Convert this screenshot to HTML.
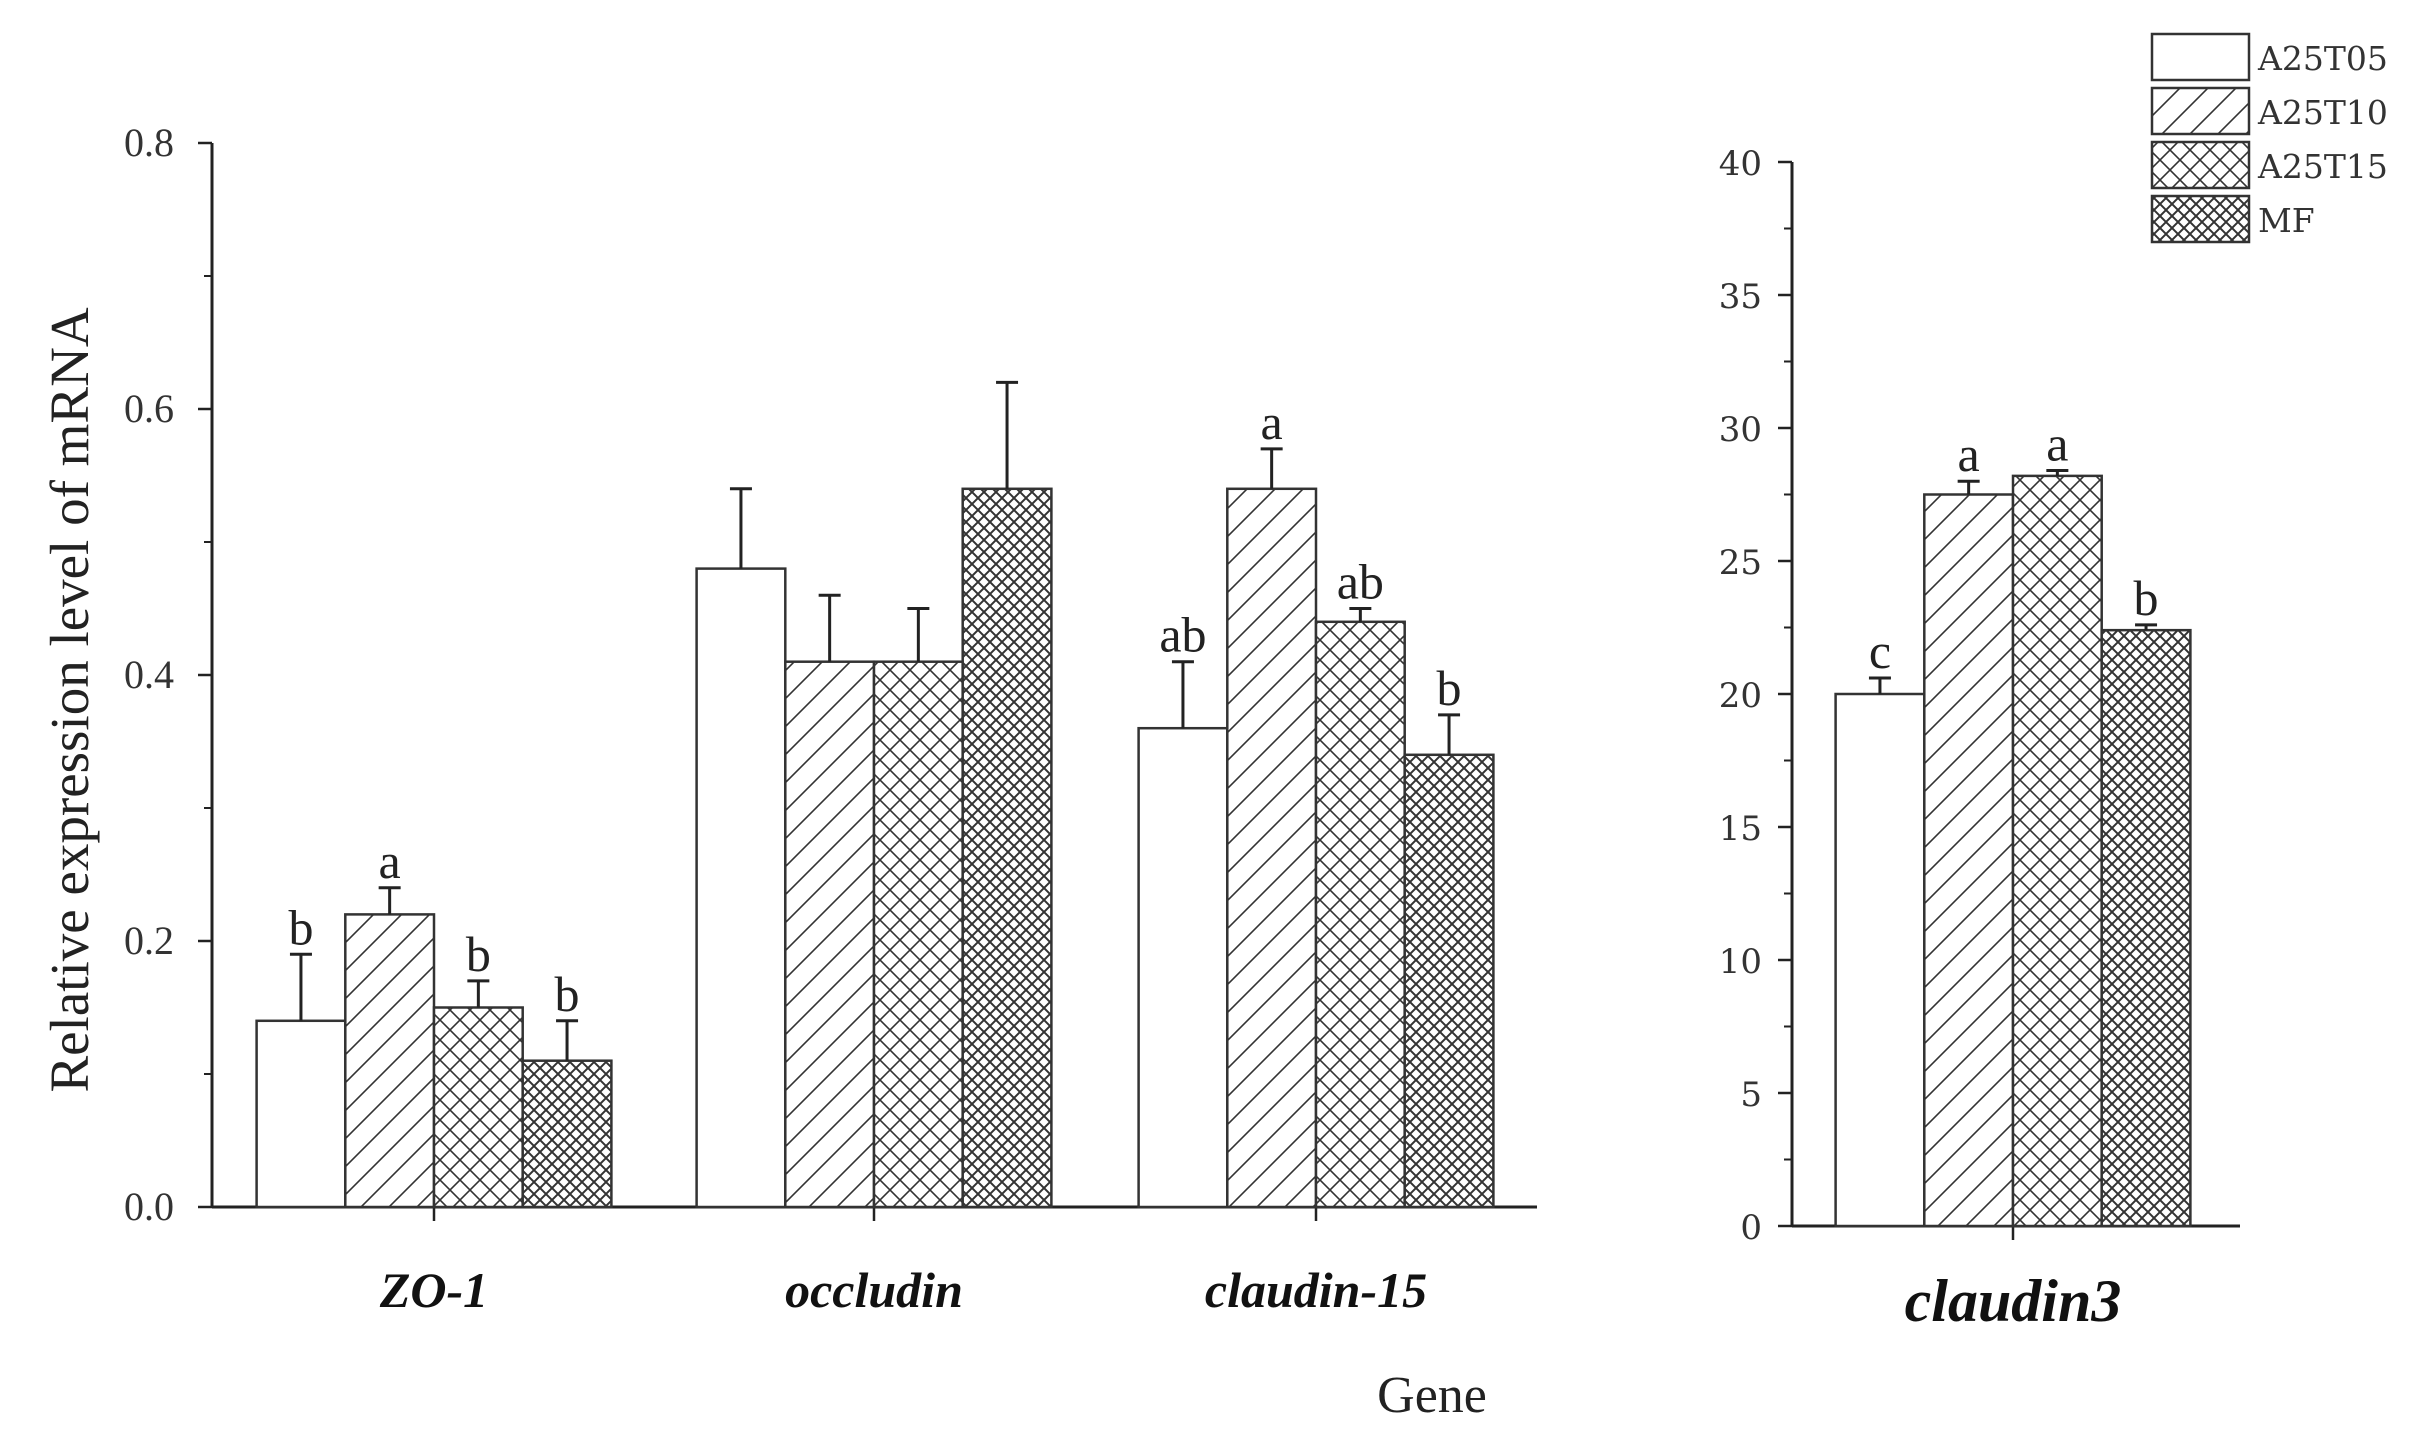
<!DOCTYPE html>
<html><head><meta charset="utf-8"><style>
html,body{margin:0;padding:0;background:#fff;}
svg{display:block;font-family:"Liberation Serif","DejaVu Serif",serif;}
</style></head><body>
<svg id="chart" width="2427" height="1436" viewBox="0 0 2427 1436" xmlns="http://www.w3.org/2000/svg">
<defs>
<pattern id="pHatch" patternUnits="userSpaceOnUse" width="28" height="28"><rect width="28" height="28" fill="#fff"/><path d="M-7,7 L7,-7 M0,28 L28,0 M21,35 L35,21" stroke="#333" stroke-width="1.6"/></pattern>
<pattern id="pCross" patternUnits="userSpaceOnUse" width="20" height="20"><rect width="20" height="20" fill="#fff"/><path d="M0,0 L20,20 M0,20 L20,0" stroke="#333" stroke-width="1.6"/></pattern>
<pattern id="pDense" patternUnits="userSpaceOnUse" width="12" height="12"><rect width="12" height="12" fill="#fff"/><path d="M0,0 L12,12 M0,12 L12,0" stroke="#333" stroke-width="2"/></pattern>
</defs>
<g id="left"></g>
<g id="right"></g>
<text transform="translate(88,700) rotate(-90)" text-anchor="middle" font-size="55" fill="#222">Relative expression level of mRNA</text>
<text x="1432" y="1412" text-anchor="middle" font-size="52" fill="#222">Gene</text>
<g id="legend"></g>
</svg>
<script>
const categories=["ZO-1","occludin","claudin-15"];
const series=["A25T05","A25T10","A25T15","MF"];
const vZO1=[0.14,0.22,0.15,0.11];
const eZO1=[0.19,0.24,0.17,0.14];
const lZO1=["b","a","b","b"];
const vOcc=[0.48,0.41,0.41,0.54];
const eOcc=[0.54,0.46,0.45,0.62];
const lOcc=["","","",""];
const vCl15=[0.36,0.54,0.44,0.34];
const eCl15=[0.41,0.57,0.45,0.37];
const lCl15=["ab","a","ab","b"];
const leftTicks=["0.0","0.2","0.4","0.6","0.8"];
const cat2=["claudin3"];
const vCl3=[20.0,27.5,28.2,22.4];
const eCl3=[20.6,28.0,28.4,22.6];
const lCl3=["c","a","a","b"];
const rightTicks=["0","5","10","15","20","25","30","35","40"];
const fills=["#fff","url(#pHatch)","url(#pCross)","url(#pDense)"];
const NS="http://www.w3.org/2000/svg";
function mk(p,t,a,txt){const e=document.createElementNS(NS,t);for(const k in a)e.setAttribute(k,a[k]);if(txt!==undefined)e.textContent=txt;p.appendChild(e);return e;}
function panel(g,o){
  const y=v=>o.y0-(v-o.min)/(o.max-o.min)*(o.y0-o.y1);
  const ax=mk(g,'line',{x1:o.ax,y1:o.y0,x2:o.ax,y2:o.y1,stroke:'#222','stroke-width':3});
  
  
  const xl=mk(g,'line',{x1:o.ax,y1:o.y0,x2:o.xend,y2:o.y0,stroke:'#222','stroke-width':3});
  
  
  o.ticks.forEach((t,i)=>{const v=parseFloat(t);const yy=y(v);
    mk(g,'line',{x1:o.ax-14,y1:yy,x2:o.ax,y2:yy,stroke:'#222','stroke-width':2.5});
    if(i<o.ticks.length-1){const ym=y(v+o.step/2);mk(g,'line',{x1:o.ax-8,y1:ym,x2:o.ax,y2:ym,stroke:'#222','stroke-width':2});}
    const tl=mk(g,'text',{x:o.ax-o.tdx,y:yy+13,'text-anchor':'end','font-size':o.tfs,'font-family':o.tff,fill:'#333'},t);
    
    
  });
  o.groups.forEach((gr,gi)=>{const cx=o.cx[gi];
    mk(g,'line',{x1:cx,y1:o.y0,x2:cx,y2:o.y0+14,stroke:'#222','stroke-width':2.5});
    const cl=mk(g,'text',{x:cx,y:o.y0+o.cdy,'text-anchor':'middle','font-size':o.cfs,'font-style':'italic','font-weight':o.cfw,fill:'#111'},gr.name);
    
    
    gr.v.forEach((v,i)=>{const x=cx+(i-2)*o.bw;const top=y(v);
      const r=mk(g,'rect',{x:x,y:top,width:o.bw,height:o.y0-top,fill:fills[i],stroke:'#333','stroke-width':2.5});
      
      
      const ey=y(gr.e[i]);const mx=x+o.bw/2;
      const eb=mk(g,'path',{d:`M${mx},${top} L${mx},${ey} M${mx-11},${ey} L${mx+11},${ey}`,stroke:'#222','stroke-width':3,fill:'none'});
      
      
      if(gr.l[i]){const lt=mk(g,'text',{x:mx,y:ey-10,'text-anchor':'middle','font-size':o.lfs,fill:'#222'},gr.l[i]);
        
        }
    });
  });
}
panel(document.getElementById('left'),{ax:212,y0:1207,y1:143,min:0,max:0.8,step:0.2,xend:1537,ticks:leftTicks,tfs:40,tff:'"Liberation Serif",serif',tdx:38,cfs:50,cfw:'bold',cdy:100,lfs:50,bw:88.7,cx:[434,874,1316],
  groups:[{name:categories[0],v:vZO1,e:eZO1,l:lZO1},{name:categories[1],v:vOcc,e:eOcc,l:lOcc},{name:categories[2],v:vCl15,e:eCl15,l:lCl15}]});
panel(document.getElementById('right'),{ax:1792,y0:1226,y1:162,min:0,max:40,step:5,xend:2240,ticks:rightTicks,tfs:34,tff:'"DejaVu Serif",serif',tdx:30,cfs:60,cfw:'bold',cdy:95,lfs:50,bw:88.7,cx:[2013],
  groups:[{name:cat2[0],v:vCl3,e:eCl3,l:lCl3}]});
const lg=document.getElementById('legend');
series.forEach((s,i)=>{const yy=34+i*54;
  const b=mk(lg,'rect',{x:2152,y:yy,width:97,height:46,fill:fills[i],stroke:'#333','stroke-width':2.5});
  
  
  const t=mk(lg,'text',{x:2258,y:yy+36,'font-size':33,'font-family':'"DejaVu Serif",serif',fill:'#333'},s);
  
  
});
</script>
</body></html>
